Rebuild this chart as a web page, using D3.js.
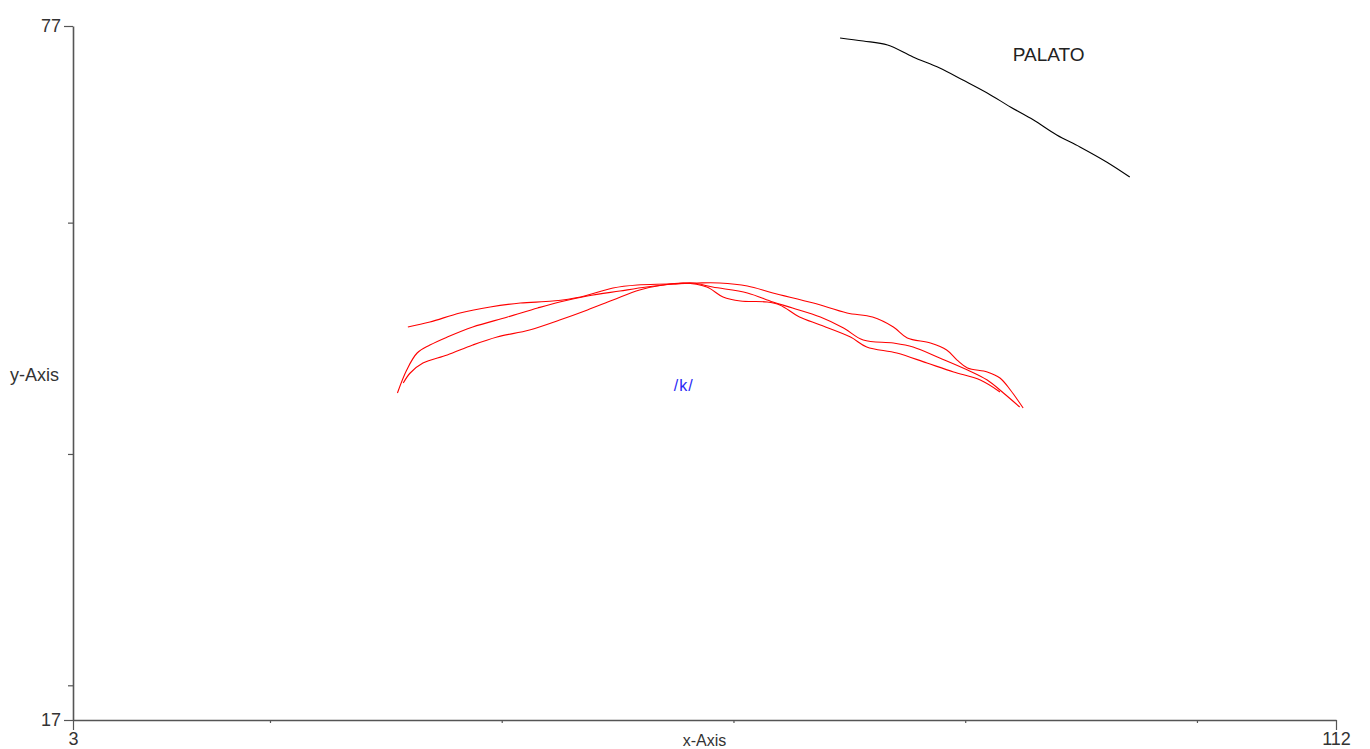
<!DOCTYPE html>
<html>
<head>
<meta charset="utf-8">
<script src="https://cdn.jsdelivr.net/npm/d3@7"></script>
<style>
  html, body { margin: 0; padding: 0; background: #fff; }
  svg { display: block; font-family: "Liberation Sans", Arial, sans-serif; }
</style>
</head>
<body>
<svg id="chart" width="1370" height="749"></svg>
<script>
// Axis ranges and tick values
const xDomain = [3, 112];
const yDomain = [17, 77];
const xMinorTicks = [20, 40, 60, 80, 100];
const yMinorTicks = [20, 40, 60];
const xEndTicks = [3, 112];
const yEndTicks = [17, 77];

// Palate contour (x, y)
const palateX = [69.2, 71.2, 73.3, 75.5, 77.8, 79.8, 81.9, 83.9, 85.9, 87.9, 89.9, 92.2, 94.2];
const palateY = [75.96, 75.70, 75.36, 74.32, 73.37, 72.33, 71.21, 70.00, 68.87, 67.58, 66.54, 65.24, 63.94];

// Tongue contours for /k/ (three repetitions)
const tongue1X = [31.9, 33.8, 36.4, 39.0, 41.6, 44.4, 46.8, 49.6, 51.7, 54.3, 56.9, 58.8, 61.2, 63.4, 66.9, 69.8, 72.0, 73.8, 75.0, 77.0, 78.4, 79.3, 80.2, 81.9, 83.0, 83.9, 85.0];
const tongue1Y = [50.98, 51.41, 52.19, 52.71, 53.05, 53.22, 53.57, 54.35, 54.61, 54.69, 54.78, 54.78, 54.52, 53.92, 53.05, 52.19, 51.84, 50.98, 50.03, 49.59, 48.99, 48.12, 47.43, 47.09, 46.57, 45.53, 43.97];

const tongue2X = [31.0, 31.8, 32.7, 33.8, 35.3, 37.5, 40.5, 43.1, 45.0, 47.4, 50.2, 52.5, 54.8, 56.5, 58.2, 61.2, 63.4, 65.1, 67.5, 69.5, 71.2, 73.8, 75.5, 77.8, 80.2, 81.9, 83.3, 84.7];
const tongue2Y = [45.27, 47.26, 48.73, 49.42, 50.11, 50.98, 51.84, 52.62, 53.14, 53.66, 54.09, 54.43, 54.69, 54.78, 54.43, 53.92, 53.14, 52.62, 51.84, 50.89, 49.85, 49.59, 49.25, 48.30, 47.26, 46.39, 45.27, 44.06];

const tongue3X = [31.5, 32.1, 33.2, 35.3, 37.5, 39.6, 42.4, 45.0, 47.4, 49.6, 51.9, 53.9, 55.7, 57.7, 59.1, 60.6, 62.9, 64.0, 65.7, 67.5, 70.1, 71.5, 74.1, 76.7, 79.0, 81.3, 83.0];
const tongue3Y = [46.13, 47.00, 47.86, 48.56, 49.42, 50.11, 50.72, 51.58, 52.45, 53.31, 54.18, 54.61, 54.78, 54.43, 53.57, 53.22, 53.14, 52.88, 51.84, 51.15, 50.11, 49.25, 48.73, 47.86, 47.09, 46.39, 45.36];

// Annotations: text, anchor x, baseline y
const labelTexts = ["PALATO", "/k/"];
const labelX = [84.1, 55.7];
const labelY = [73.97, 45.44];

const W = 1370, H = 749;
const margin = { left: 73, top: 26, right: 34, bottom: 29 };

const svg = d3.select("#chart");
const x = d3.scaleLinear().domain(xDomain).range([margin.left, W - margin.right]);
const y = d3.scaleLinear().domain(yDomain).range([H - margin.bottom, margin.top]);

const zip = (xs, ys) => xs.map((v, i) => [v, ys[i]]);
const line = d3.line().x(d => x(d[0])).y(d => y(d[1])).curve(d3.curveCatmullRom.alpha(0.5));

const axisColor = "#555";

// x axis: short inner ticks, long labelled end ticks
const gx = svg.append("g").attr("transform", `translate(0,${y(yDomain[0])})`);
gx.call(d3.axisBottom(x).tickValues(xMinorTicks).tickSize(3).tickSizeOuter(0).tickFormat(""));
gx.append("g").call(d3.axisBottom(x).tickValues(xEndTicks).tickSize(10).tickSizeOuter(0).tickPadding(2).tickFormat(d3.format("d")))
  .select(".domain").remove();

// y axis
const gy = svg.append("g").attr("transform", `translate(${x(xDomain[0])},0)`);
gy.call(d3.axisLeft(y).tickValues(yMinorTicks).tickSize(5).tickSizeOuter(0).tickFormat(""));
gy.append("g").call(d3.axisLeft(y).tickValues(yEndTicks).tickSize(9).tickSizeOuter(0).tickPadding(3).tickFormat(d3.format("d")))
  .select(".domain").remove();

svg.selectAll(".domain").attr("stroke", axisColor).attr("stroke-width", 1.6);
svg.selectAll(".tick line").attr("stroke", axisColor).attr("stroke-width", 1.2);
svg.selectAll(".tick text").attr("fill", "#333").attr("font-size", 18)
  .attr("font-family", "'Liberation Sans', Arial, sans-serif");

// axis titles
svg.append("text").attr("x", (x(xDomain[0]) + x(xDomain[1])) / 2).attr("y", 746)
  .attr("text-anchor", "middle").attr("font-size", 16).attr("fill", "#333").text("x-Axis");
svg.append("text").attr("x", 10).attr("y", 381)
  .attr("font-size", 18).attr("fill", "#333").text("y-Axis");

// contours
const curves = [
  { pts: zip(palateX, palateY), color: "#000" },
  { pts: zip(tongue1X, tongue1Y), color: "#ff0000" },
  { pts: zip(tongue2X, tongue2Y), color: "#ff0000" },
  { pts: zip(tongue3X, tongue3Y), color: "#ff0000" }
];
svg.append("g").selectAll("path").data(curves).join("path")
  .attr("d", d => line(d.pts))
  .attr("fill", "none")
  .attr("stroke", d => d.color)
  .attr("stroke-width", 1.1)
  .attr("stroke-linejoin", "round");

// annotations
svg.append("text").attr("x", x(labelX[0])).attr("y", y(labelY[0]))
  .attr("font-size", 19).attr("fill", "#222").text(labelTexts[0]);
svg.append("text").attr("x", x(labelX[1])).attr("y", y(labelY[1]))
  .attr("text-anchor", "middle").attr("font-size", 16).attr("letter-spacing", 1)
  .attr("fill", "#2a2af5").text(labelTexts[1]);
</script>
</body>
</html>
